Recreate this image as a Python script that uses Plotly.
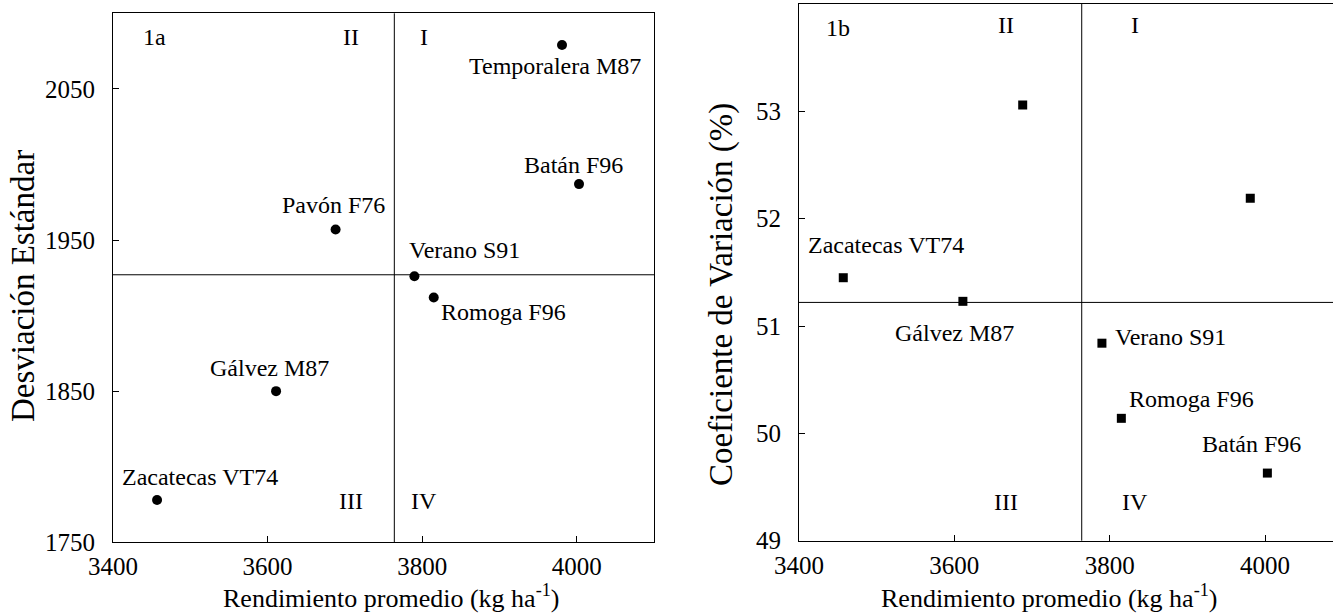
import plotly.graph_objects as go

# ---- data ----
varieties = ["Zacatecas VT74", "Gálvez M87", "Pavón F76", "Verano S91",
             "Romoga F96", "Temporalera M87", "Batán F96"]
yield_mean = [3457, 3611, 3688, 3790, 3815, 3981, 4003]          # kg/ha
std_dev = [1778, 1850, 1957, 1926, 1912, 2079, 1987]
coef_var = [51.45, 51.23, 53.06, 50.84, 50.14, 52.19, 49.63]      # %

ref_yield = 3764      # vertical reference line (mean yield)
ref_sd = 1927         # horizontal reference line panel 1a
ref_cv = 51.22        # horizontal reference line panel 1b

x_ticks = [3400, 3600, 3800, 4000]
sd_ticks = [1750, 1850, 1950, 2050]
cv_ticks = [49, 50, 51, 52, 53, 54]

# label offsets (pixels) per variety, panel a and panel b (None = no label)
off_a = [(43, 23), (-7, 23), (-2, 24), (50, 26), (70, -15), (-7, -21), (-6, 19)]
off_b = [(43, 33), (-8, -32), None, (69, 6), (70, 19), None, (-16, 29)]

FONT = "'Liberation Serif', 'Times New Roman', Times, serif"

W, H = 1333, 615
def px(x):
    return x / W
def py(y):
    return (H - y) / H

fig = go.Figure()

fig.add_trace(go.Scatter(
    x=yield_mean, y=std_dev, mode="markers", xaxis="x", yaxis="y",
    marker=dict(symbol="circle", size=10, color="black"),
    showlegend=False, hoverinfo="skip"))
fig.add_trace(go.Scatter(
    x=yield_mean, y=coef_var, mode="markers", xaxis="x2", yaxis="y2",
    marker=dict(symbol="square", size=9, color="black"),
    showlegend=False, hoverinfo="skip"))

# reference lines
line_style = dict(color="black", width=1)
fig.add_shape(type="line", xref="x", yref="y domain", x0=ref_yield, x1=ref_yield,
              y0=0, y1=1, line=line_style)
fig.add_shape(type="line", xref="x domain", yref="y", x0=0, x1=1,
              y0=ref_sd, y1=ref_sd, line=line_style)
fig.add_shape(type="line", xref="x2", yref="y2 domain", x0=ref_yield, x1=ref_yield,
              y0=0, y1=1, line=line_style)
fig.add_shape(type="line", xref="x2 domain", yref="y2", x0=0, x1=1,
              y0=ref_cv, y1=ref_cv, line=line_style)

ann = []
lab_font = dict(family=FONT, size=24, color="black")
for name, xv, yv, o in zip(varieties, yield_mean, std_dev, off_a):
    if o is not None:
        ann.append(dict(x=xv, y=yv, xref="x", yref="y", text=name, showarrow=False,
                        xshift=o[0], yshift=o[1], font=lab_font))
for name, xv, yv, o in zip(varieties, yield_mean, coef_var, off_b):
    if o is not None:
        ann.append(dict(x=xv, y=yv, xref="x2", yref="y2", text=name, showarrow=False,
                        xshift=o[0], yshift=o[1], font=lab_font))

# quadrant labels
quad_a = [("1a", 3454, 2084), ("II", 3708, 2084), ("I", 3802, 2084),
          ("III", 3708, 1777), ("IV", 3802, 1777)]
quad_b = [("1b", 3450, 53.78), ("II", 3666, 53.8), ("I", 3833, 53.8),
          ("III", 3666, 49.36), ("IV", 3833, 49.36)]
for t, xv, yv in quad_a:
    ann.append(dict(x=xv, y=yv, xref="x", yref="y", text=t, showarrow=False, font=lab_font))
for t, xv, yv in quad_b:
    ann.append(dict(x=xv, y=yv, xref="x2", yref="y2", text=t, showarrow=False, font=lab_font))

# axis titles
xt = "Rendimiento promedio (kg ha<sup>-1</sup>)"
title_common = dict(xref="paper", yref="paper", showarrow=False,
                    xanchor="center", yanchor="middle")
ann.append(dict(x=px(391), y=py(596), text=xt,
                font=dict(family=FONT, size=26, color="black"), **title_common))
ann.append(dict(x=px(1049), y=py(596), text=xt,
                font=dict(family=FONT, size=26, color="black"), **title_common))
ann.append(dict(x=px(23), y=py(286), text="Desviación Estándar", textangle=-90,
                font=dict(family=FONT, size=33, color="black"), **title_common))
ann.append(dict(x=px(722), y=py(295), text="Coeficiente de Variación (%)", textangle=-90,
                font=dict(family=FONT, size=33, color="black"), **title_common))

tick_font = dict(family=FONT, size=25, color="black")
common = dict(showgrid=False, zeroline=False, showline=True, linecolor="black",
              linewidth=1, ticks="inside", ticklen=6, tickcolor="black",
              tickfont=tick_font, automargin=False)

fig.update_layout(
    width=W, height=H,
    margin=dict(l=0, r=0, t=0, b=0),
    paper_bgcolor="white", plot_bgcolor="white",
    font=dict(family=FONT, color="black"),
    xaxis=dict(domain=[px(113), px(654)], range=[3400, 4100], tickvals=x_ticks,
               mirror=True, anchor="y", ticklabelstandoff=2, **common),
    yaxis=dict(domain=[py(542.3), py(13.3)], range=[1750, 2100],
               tickvals=sd_ticks, mirror=True, anchor="x", ticklabelstandoff=12, **common),
    xaxis2=dict(domain=[px(799), 1.0], range=[3400, 4087.5], tickvals=x_ticks,
                mirror=True, anchor="y2", ticklabelstandoff=2, **common),
    yaxis2=dict(domain=[py(540.7), py(4)], range=[49, 54],
                tickvals=cv_ticks, mirror=False, anchor="x2", ticklabelstandoff=12, **common),
    annotations=ann,
)

fig.write_html("out.html", config={"displayModeBar": False},
               post_script="document.body.style.margin='0';document.body.style.overflow='hidden';")
